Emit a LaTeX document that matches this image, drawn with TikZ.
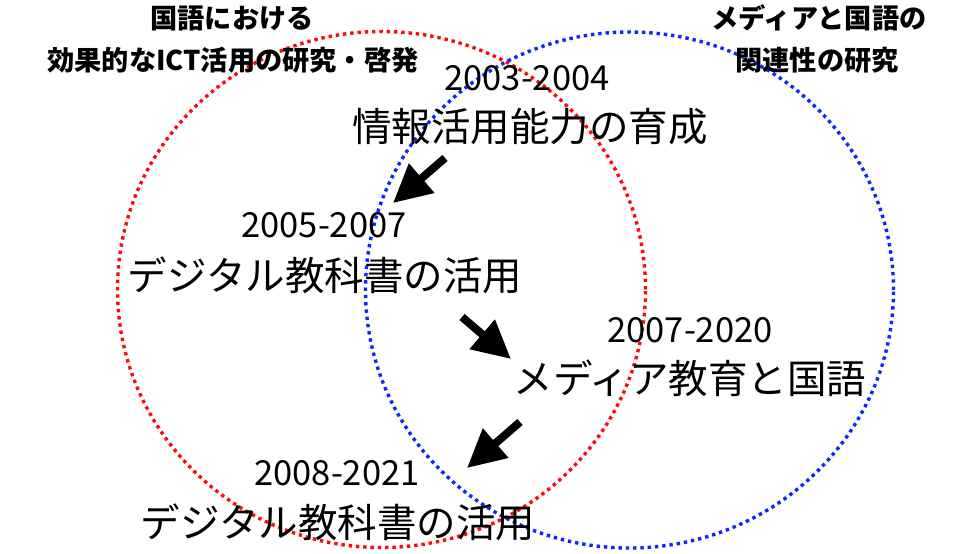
\documentclass[tikz,border=0pt]{standalone}
\usepackage{fontspec}
\setmainfont{Noto Sans CJK JP}
\usetikzlibrary{arrows.meta}
\definecolor{cred}{RGB}{255,10,10}
\definecolor{cblue}{RGB}{10,40,255}
\tikzset{
  dotcircle/.style={line width=3.4pt, dash pattern=on 3.4pt off 3.9pt},
  headlabel/.style={inner sep=0pt, font=\fontsize{27.2}{27.2}\selectfont\bfseries},
  yearlabel/.style={inner sep=0pt, font=\fontsize{34.5}{34.5}\selectfont},
  itemlabel/.style={inner sep=0pt, font=\fontsize{39.5}{39.5}\selectfont},
  bigarrow/.style={line width=8pt, -{Triangle[width=37pt,length=38pt]}}
}
\begin{document}
\begin{tikzpicture}[x=1pt,y=-1pt]
\useasboundingbox (0,0) rectangle (980,554);
\fill[white] (0,0) rectangle (980,554);
\draw[dotcircle, cred] (381.5,289.5) ellipse [x radius=264pt, y radius=258pt];
\draw[dotcircle, cblue] (629.5,290) ellipse [x radius=264pt, y radius=258pt];
\node[headlabel] (l1) at (232,18) {国語における};
\node[headlabel] (l2) at (233,60) {効果的なICT活用の研究・啓発};
\node[headlabel] (r1) at (819,18) {メディアと国語の};
\node[headlabel] (r2) at (817,60) {関連性の研究};
\node[yearlabel] (y1) at (527,78) {2003-2004};
\node[itemlabel] (t1) at (530,127) {情報活用能力の育成};
\node[yearlabel] (y2) at (324,225) {2005-2007};
\node[itemlabel] (t2) at (325,275) {デジタル教科書の活用};
\node[yearlabel] (y3) at (690,330) {2007-2020};
\node[itemlabel] (t3) at (690,378) {メディア教育と国語};
\node[yearlabel] (y4) at (337,473) {2008-2021};
\node[itemlabel] (t4) at (338,522) {デジタル教科書の活用};
\coordinate (a1s) at (445,158);
\coordinate (a1e) at (393,203);
\coordinate (a2s) at (462,317);
\coordinate (a2e) at (511,359);
\coordinate (a3s) at (520,422);
\coordinate (a3e) at (467,468);
\draw[bigarrow] (a1s) -- (a1e);
\draw[bigarrow] (a2s) -- (a2e);
\draw[bigarrow] (a3s) -- (a3e);
\end{tikzpicture}
\end{document}
